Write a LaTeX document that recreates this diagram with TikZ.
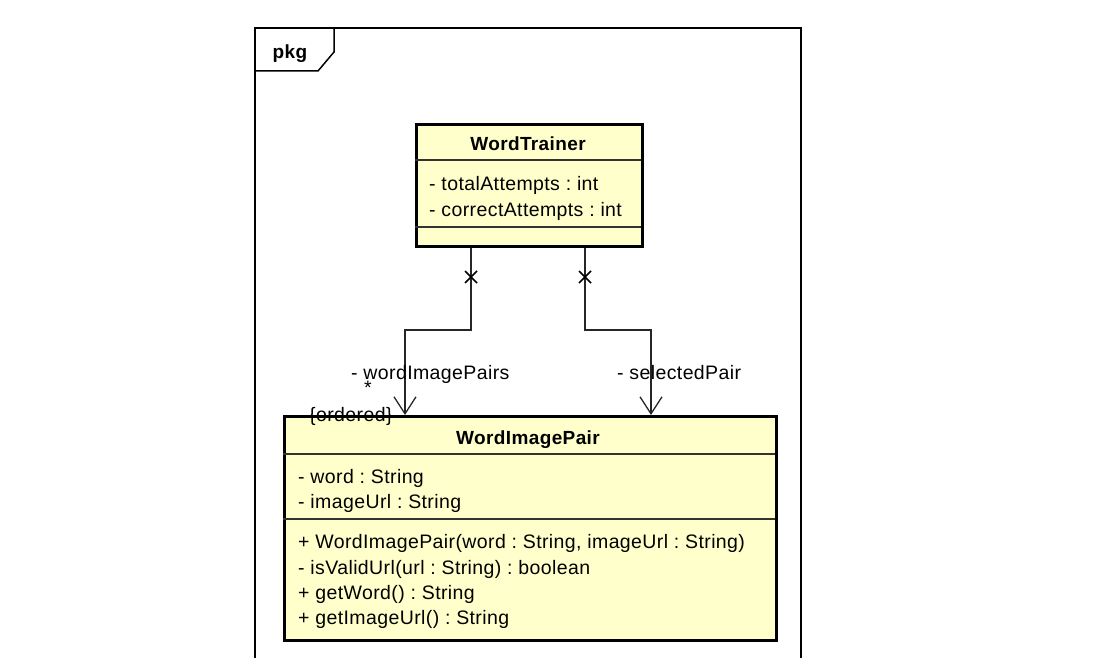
\documentclass[tikz,border=0pt]{standalone}
\usepackage{fontspec}
\setmainfont{Liberation Sans}[LetterSpace=2]
\frenchspacing
\usetikzlibrary{arrows.meta}
\definecolor{classfill}{RGB}{255,255,204}
\tikzset{
  classbox/.style={draw=black, line width=3pt, fill=classfill, minimum width=#1, inner sep=0pt, anchor=north west},
  sep/.style={line width=1.3pt, draw=black!80},
  txt/.style={anchor=base west, inner sep=0pt, font=\fontsize{19.5}{21}\selectfont},
  ttl/.style={anchor=base, inner sep=0pt, font=\fontsize{19}{21}\selectfont\bfseries},
  assoc/.style={line width=1.3pt, draw=black!85, -{Straight Barb[length=17pt,width=22pt,line width=1.3pt]}},
  cross/.style={line width=1.5pt},
  frame/.style={line width=1.5pt}
}
\begin{document}
\begin{tikzpicture}[x=1pt,y=1pt]
\useasboundingbox (0,0) rectangle (1098,-658);
% package frame
\draw[frame] (255,-658) -- (255,-28) -- (801,-28) -- (801,-658);
\draw[frame] (334,-28) -- (334,-52) -- (318,-71) -- (255,-71);
\node[ttl] (pkg) at (290,-59) {pkg};
% WordTrainer
\node[classbox=226pt, minimum height=122pt] (wt) at (415,-123) {};
\draw[sep] (415,-160) -- (641,-160);
\draw[sep] (415,-227) -- (641,-227);
\node[ttl] (wtt) at (528,-150) {WordTrainer};
\node[txt] (wta1) at (429,-190) {- totalAttempts : int};
\node[txt] (wta2) at (429,-216) {- correctAttempts : int};
% WordImagePair
\node[classbox=492pt, minimum height=224pt] (wip) at (283,-415) {};
\draw[sep] (283,-454) -- (775,-454);
\draw[sep] (283,-519) -- (775,-519);
\node[ttl] (wipt) at (528,-444) {WordImagePair};
\node[txt] (wa1) at (298,-483) {- word : String};
\node[txt] (wa2) at (298,-508) {- imageUrl : String};
\node[txt] (wm1) at (298,-548) {+ WordImagePair(word : String, imageUrl : String)};
\node[txt] (wm2) at (298,-574) {- isValidUrl(url : String) : boolean};
\node[txt] (wm3) at (298,-599) {+ getWord() : String};
\node[txt] (wm4) at (298,-624) {+ getImageUrl() : String};
% connectors
\coordinate (s1) at ([xshift=56pt]wt.south west);
\coordinate (b1) at (471,-330);
\coordinate (b2) at (405,-330);
\coordinate (e1) at ([xshift=122pt]wip.north west);
\draw[assoc] (s1) -- (b1) -- (b2) -- (e1);
\coordinate (s2) at ([xshift=170pt]wt.south west);
\coordinate (c1) at (585,-330);
\coordinate (c2) at (651,-330);
\coordinate (e2) at ([xshift=368pt]wip.north west);
\draw[assoc] (s2) -- (c1) -- (c2) -- (e2);
% ownership crosses
\draw[cross] (465,-271) -- (477,-283) (465,-283) -- (477,-271);
\draw[cross] (579,-271) -- (591,-283) (579,-283) -- (591,-271);
% labels
\node[txt] (l1) at (351,-379) {- wordImagePairs};
\node[txt] (star) at (364,-394) {*};
\node[txt] (ord) at (309,-421) {\{ordered\}};
\node[txt] (l2) at (617,-379) {- selectedPair};
\end{tikzpicture}
\end{document}
